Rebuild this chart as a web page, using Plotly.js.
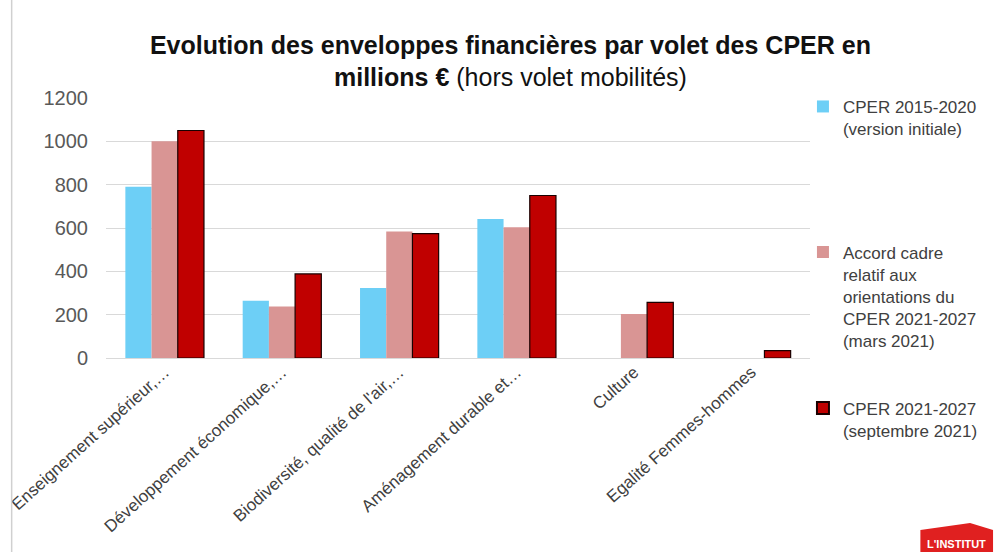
<!DOCTYPE html>
<html>
<head>
<meta charset="utf-8">
<script src="https://cdn.plot.ly/plotly-3.0.1.min.js"></script>
<style>html,body{margin:0;padding:0;background:#fff;}#chart{width:995px;height:552px;}</style>
</head>
<body>
<div id="chart"></div>
<script>
const categories = [
  "Enseignement supérieur,…",
  "Développement économique,…",
  "Biodiversité, qualité de l'air,…",
  "Aménagement durable et…",
  "Culture",
  "Egalité Femmes-hommes"
];
const seriesNames = [
  "CPER 2015-2020<br>(version initiale)",
  "Accord cadre<br>relatif aux<br>orientations du<br>CPER 2021-2027<br>(mars 2021)",
  "CPER 2021-2027<br>(septembre 2021)"
];
const cper2015 = [790, 264, 323, 641, null, null];
const accord2021 = [1000, 238, 584, 603, 203, null];
const cper2021 = [1050, 388, 574, 750, 257, 34];
const yTicks = [0, 200, 400, 600, 800, 1000, 1200];

const colors = ["#6dcff6", "#d99594", "#c00000"];

const traces = [
  {type: "bar", x: categories, y: cper2015, name: seriesNames[0], marker: {color: colors[0]}, legend: "legend"},
  {type: "bar", x: categories, y: accord2021, name: seriesNames[1], marker: {color: colors[1]}, legend: "legend2"},
  {type: "bar", x: categories, y: cper2021, name: seriesNames[2], marker: {color: colors[2], line: {color: "#1a0000", width: 1.2}}, legend: "legend3"}
];

const legFont = {family: "Liberation Sans, Arial, sans-serif", size: 17, color: "#404040"};
const legBase = {font: legFont, bgcolor: "rgba(0,0,0,0)", itemwidth: 30, xanchor: "left", yanchor: "top", tracegroupgap: 0, itemsizing: "constant", valign: "top"};

const layout = {
  width: 995, height: 552,
  margin: {l: 106, r: 181, t: 98, b: 194},
  paper_bgcolor: "#ffffff", plot_bgcolor: "#ffffff",
  title: {
    text: "<b>Evolution des enveloppes financières par volet des CPER en<br>millions €</b> (hors volet mobilités)",
    font: {family: "Liberation Sans, Arial, sans-serif", size: 25, color: "#111111"},
    x: 0.513, xref: "container", xanchor: "center",
    y: 0.903, yref: "container", yanchor: "top"
  },
  barmode: "group", bargap: 0.33, bargroupgap: 0,
  xaxis: {
    tickangle: -42,
    tickfont: {family: "Liberation Sans, Arial, sans-serif", size: 17, color: "#404040"},
    showgrid: false, showline: false, ticks: "", automargin: false
  },
  yaxis: {
    range: [0, 1200], tickvals: yTicks, ticktext: yTicks.map(String),
    tickfont: {family: "Liberation Sans, Arial, sans-serif", size: 20, color: "#595959"},
    showgrid: true, gridcolor: "#d9d9d9", gridwidth: 1,
    zeroline: true, zerolinecolor: "#d9d9d9", zerolinewidth: 1,
    showline: false, ticks: "", ticklen: 0, ticklabelstandoff: 17, automargin: false
  },
  legend: Object.assign({}, legBase, {x: 0.99, y: 1.035}),
  legend2: Object.assign({}, legBase, {x: 0.99, y: 0.475}),
  legend3: Object.assign({}, legBase, {x: 0.99, y: -0.125}),
  shapes: [
    {type: "line", xref: "paper", yref: "paper", x0: -0.134, x1: -0.134, y0: -0.75, y1: 1.38, line: {color: "#d0d0d0", width: 1.5}},
    {type: "path", xref: "paper", yref: "paper",
     path: "M 1.1568 -0.75 L 1.1568 -0.6615 L 1.2274 -0.6346 L 1.26 -0.6615 L 1.26 -0.75 Z",
     fillcolor: "#e02020", line: {width: 0}}
  ],
  annotations: [
    {xref: "paper", yref: "paper", x: 1.163, y: -0.715, xanchor: "left", yanchor: "middle", text: "<b>L'INSTITUT</b>", showarrow: false,
     font: {family: "Liberation Sans, Arial, sans-serif", size: 11, color: "#ffffff"}}
  ],
  showlegend: true
};

Plotly.newPlot("chart", traces, layout, {displayModeBar: false, staticPlot: true});
</script>
</body>
</html>
